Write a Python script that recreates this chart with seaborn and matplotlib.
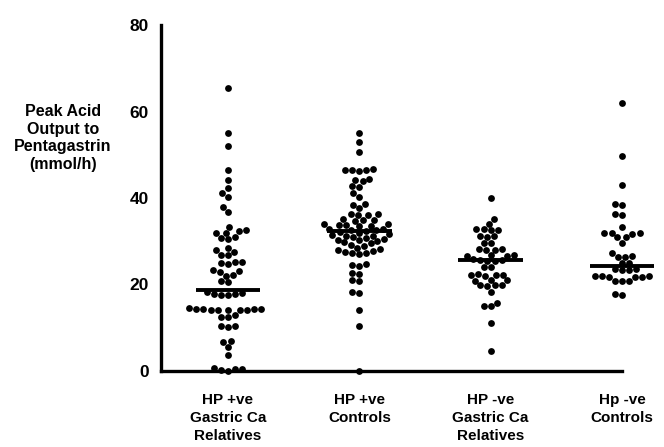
import matplotlib
matplotlib.use("Agg")
import matplotlib.pyplot as plt
import seaborn as sns
import pandas as pd

categories = ["HP +ve\nGastric Ca\nRelatives", "HP +ve\nControls",
              "HP -ve\nGastric Ca\nRelatives", "Hp -ve\nControls"]

hp_pos_relatives = [
    65.4, 55.0, 52.0, 46.5, 44.2, 42.3, 41.1, 40.2, 38.0, 36.8, 33.4,
    32.5, 32.3, 32.0, 31.8, 31.0, 30.7, 30.5,
    28.5, 28.0, 27.5, 26.8, 26.8, 25.3, 25.3, 25.0, 24.8, 23.4, 23.2, 23.0,
    22.3, 22.0, 20.7, 20.5,
    18.0, 17.8, 17.8, 17.5, 17.5, 18.2,
    14.5, 14.3, 14.3, 14.0, 14.2, 14.4, 14.1, 14.3, 14.0, 14.2,
    13.0, 12.6, 12.4, 10.5, 10.4, 10.2, 7.0, 6.8, 5.6, 3.6,
    0.8, 0.5, 0.3, 0.0, 0.5,
]
hp_pos_controls = [
    55.1, 53.0, 50.7, 46.8, 46.5, 46.5, 46.3, 46.5, 44.5, 44.2, 44.0,
    42.6, 42.8, 41.2, 40.3, 38.6, 38.4, 37.8, 36.3, 36.1, 36.0, 36.2,
    35.0, 34.9, 34.7, 35.1, 33.8, 33.9, 33.6, 33.7, 33.5, 34.0,
    32.8, 32.6, 32.4, 32.2, 32.5, 32.9, 31.8, 31.5, 31.2, 31.0, 31.6, 31.3,
    30.5, 30.2, 30.0, 30.8, 30.4, 29.5, 29.2, 29.0, 29.8,
    28.3, 28.0, 27.8, 28.5, 27.5, 27.2, 27.0, 27.3,
    24.5, 24.8, 24.2, 22.6, 22.4, 21.0, 20.8, 18.3, 18.0, 14.1, 10.4, 0.0,
]
hp_neg_relatives = [
    39.9, 35.1, 34.1, 32.8, 32.8, 32.6, 32.7, 31.1, 31.2, 30.9, 29.5, 29.6,
    28.0, 28.1, 27.9, 28.2, 26.8, 26.9, 26.7, 26.6, 25.6, 25.5, 25.7, 25.4,
    25.8, 24.1, 24.0, 22.2, 22.3, 22.1, 22.0, 22.4, 21.0, 21.1, 20.9,
    19.9, 20.0, 19.8, 19.7, 18.3, 15.8, 15.0, 15.1, 11.2, 4.7,
]
hp_neg_controls = [
    61.9, 49.8, 43.0, 38.4, 38.6, 36.1, 36.3, 33.4, 31.8, 31.9, 31.7, 32.0,
    30.9, 31.0, 29.7, 27.2, 26.4, 26.5, 26.3, 24.9, 25.0, 23.4, 23.5, 23.3,
    23.6, 21.8, 21.9, 21.7, 22.0, 21.8, 21.9, 20.8, 20.9, 20.7, 17.6, 17.7,
]
group_medians = [18.7, 32.4, 25.7, 24.3]
y_ticks = [0, 20, 40, 60, 80]
y_label = "Peak Acid\nOutput to\nPentagastrin\n(mmol/h)"

series = [hp_pos_relatives, hp_pos_controls, hp_neg_relatives, hp_neg_controls]
df = pd.DataFrame({
    "group": [c for c, s in zip(categories, series) for _ in s],
    "value": [v for s in series for v in s],
})

sns.set_theme(style="white")
plt.rcParams["font.family"] = ["Liberation Sans", "DejaVu Sans"]
plt.rcParams["font.weight"] = "bold"
plt.rcParams["text.color"] = "black"
plt.rcParams["xtick.color"] = "black"
plt.rcParams["ytick.color"] = "black"

fig = plt.figure(figsize=(6.64, 4.47), dpi=100)
ax = fig.add_axes([161 / 664, 1 - 371 / 447, (622 - 161) / 664, (371 - 25) / 447])

sns.swarmplot(data=df, x="group", y="value", order=categories, color="black",
              size=4.9, ax=ax, linewidth=0)
for coll in ax.collections:
    coll.set_clip_on(False)
    coll.set_zorder(5)

for i, m in enumerate(group_medians):
    ax.hlines(m, i - 0.245, i + 0.245, color="black", linewidth=2.8, zorder=6,
              clip_on=False)

ax.set_xlim(-0.51, 3.0)
ax.set_ylim(0, 80)
ax.set_yticks(y_ticks)
ax.set_yticklabels([str(t) for t in y_ticks], fontsize=12.5, fontweight="bold",
                   color="black")
ax.set_xticks(range(len(categories)))
ax.set_xticklabels(categories, fontsize=11, fontweight="bold", linespacing=1.36,
                   color="black")
ax.set_xlabel("")
ax.set_ylabel("")

for side in ["top", "right"]:
    ax.spines[side].set_visible(False)
for side in ["left", "bottom"]:
    ax.spines[side].set_linewidth(2.4)
    ax.spines[side].set_color("black")

ax.tick_params(axis="y", direction="out", length=4, width=2, pad=5, colors="black")
ax.tick_params(axis="x", direction="out", length=3, width=2, pad=13, colors="black")

fig.text(63 / 664, 1 - 138 / 447, y_label, ha="center", va="center",
         fontsize=11.5, fontweight="bold", linespacing=1.22, color="black")

fig.savefig("out.png", dpi=100, facecolor="white")
